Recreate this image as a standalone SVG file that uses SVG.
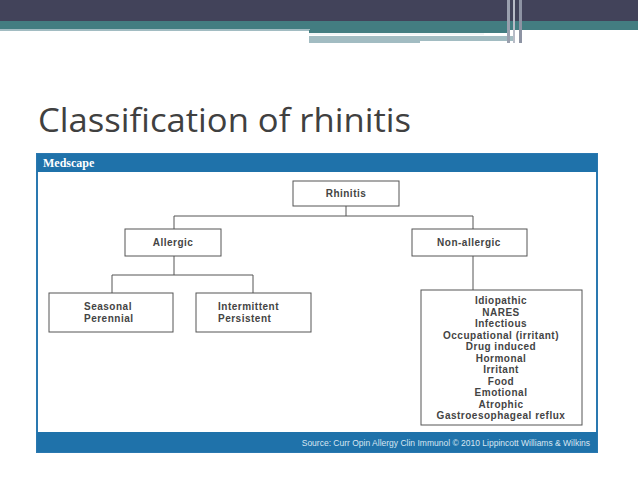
<svg xmlns="http://www.w3.org/2000/svg" width="638" height="479" viewBox="0 0 638 479">
<style>
.b{fill:#fff;stroke:#555;stroke-width:1}
.t{font-family:"Liberation Sans",Arial,sans-serif;font-size:10px;font-weight:bold;fill:#444;letter-spacing:0.5px}
.c{text-anchor:middle}
.l{fill:none;stroke:#555;stroke-width:1}
</style>
<rect width="638" height="479" fill="#fff"/>
<rect width="638" height="21" fill="#42435a"/>
<rect y="21" width="638" height="9" fill="#437d81"/>
<rect y="29" width="310" height="2" fill="#a2bcc2"/>
<rect x="309" y="30" width="200" height="3" fill="#437d81"/>
<rect x="309" y="33" width="175" height="2" fill="#f2f6f7"/>
<rect x="309" y="36" width="205" height="7" fill="#a2bcc2"/>
<rect x="420" y="41" width="95" height="2" fill="#fff"/>
<rect x="507" y="0" width="3" height="43" fill="#9aa0ae"/>
<rect x="513" y="0" width="2" height="43" fill="#b8bcc7"/>
<rect x="519" y="0" width="3" height="43" fill="#8d93a3"/>
<text x="38" y="132" font-family="Open Sans,Liberation Sans,sans-serif" font-size="33" fill="#404040" textLength="373" lengthAdjust="spacingAndGlyphs">Classification of rhinitis</text>
<g id="panel">
<rect x="37" y="154" width="560" height="298" fill="#fff" stroke="#2a78b0" stroke-width="2"/>
<rect x="37" y="154" width="560" height="18" fill="#1f72aa"/>
<text x="43" y="167" font-family="Liberation Serif,serif" font-size="12" font-weight="bold" fill="#fff">Medscape</text>
<rect x="37" y="432" width="560" height="20" fill="#1f72aa"/>
<text x="590" y="446" text-anchor="end" font-family="Liberation Sans,sans-serif" font-size="8.5" fill="#d8e6f2">Source: Curr Opin Allergy Clin Immunol © 2010 Lippincott Williams &amp; Wilkins</text>
</g>
<g id="connectors">
<path class="l" d="M346 206V216M174 229V216H473V229M174 256V275M112 293V275H253V293M473 256V290"/>
</g>
<g id="rhinitis"><rect class="b" x="293" y="181" width="106" height="25"/><text class="t c" x="346" y="197">Rhinitis</text></g>
<g id="allergic"><rect class="b" x="125" y="229" width="96" height="27"/><text class="t c" x="173" y="246">Allergic</text></g>
<g id="nonallergic"><rect class="b" x="412" y="229" width="115" height="27"/><text class="t c" x="469" y="246">Non-allergic</text></g>
<g id="seasonal"><rect class="b" x="49" y="293" width="124" height="39"/><text class="t" x="84" y="310">Seasonal</text><text class="t" x="84" y="322">Perennial</text></g>
<g id="intermittent"><rect class="b" x="196" y="293" width="115" height="39"/><text class="t" x="218" y="310">Intermittent</text><text class="t" x="218" y="322">Persistent</text></g>
<g id="types"><rect class="b" x="421" y="290" width="161" height="135"/>
<g class="t c" font-size="9.5">
<text x="501" y="304">Idiopathic</text><text x="501" y="315.5">NARES</text><text x="501" y="327">Infectious</text><text x="501" y="338.5">Occupational (irritant)</text><text x="501" y="350">Drug induced</text><text x="501" y="361.5">Hormonal</text><text x="501" y="373">Irritant</text><text x="501" y="384.5">Food</text><text x="501" y="396">Emotional</text><text x="501" y="407.5">Atrophic</text><text x="501" y="419">Gastroesophageal reflux</text>
</g></g>
</svg>
